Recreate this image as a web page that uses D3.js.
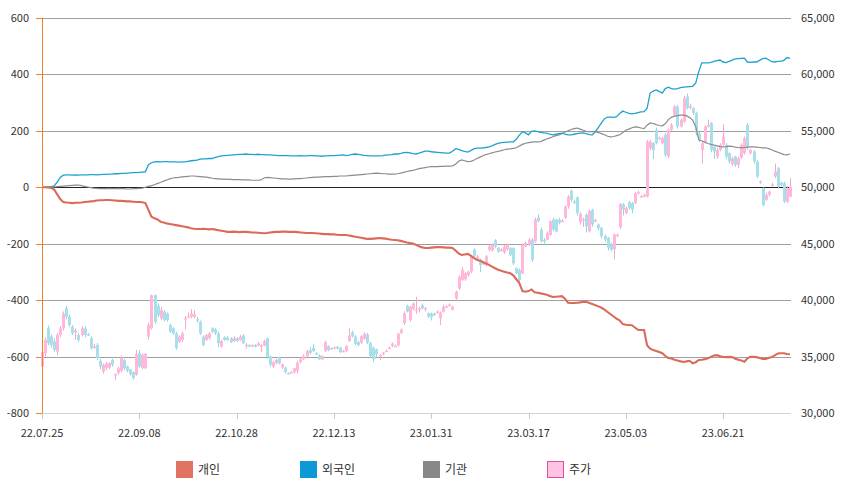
<!DOCTYPE html>
<html><head><meta charset="utf-8">
<script src="https://cdn.jsdelivr.net/npm/d3@7"></script>
<style>body{margin:0;background:#fff} text{font-family:"Noto Sans CJK KR","Noto Sans",sans-serif}</style>
</head><body><svg id="c" width="854" height="492"></svg>
<script>
const tickIndex=[0,32,64,96,128,160,192,224];
const tickLabels=["22.07.25","22.09.08","22.10.28","22.12.13","23.01.31","23.03.17","23.05.03","23.06.21"];
const leftTicks=[-800,-600,-400,-200,0,200,400,600];
const rightTicks=[30000,35000,40000,45000,50000,55000,60000,65000];
const legendNames=["개인","외국인","기관","주가"];

const individual=[0,0,-1,-2,-8,-25,-42,-52,-54,-55,
-56,-55,-55,-54,-52,-51,-50,-49,-47,-46,
-46,-45,-45,-46,-47,-48,-48,-49,-50,-50,
-51,-52,-52,-53,-56,-80,-104,-110,-114,-122,
-125,-128,-130,-132,-134,-136,-138,-140,-142,-145,
-147,-148,-148,-147,-148,-149,-148,-150,-152,-154,
-156,-158,-158,-157,-158,-159,-158,-158,-159,-160,
-160,-161,-162,-163,-162,-160,-159,-158,-158,-157,
-157,-158,-158,-158,-159,-160,-161,-162,-162,-162,
-163,-164,-165,-166,-166,-167,-167,-168,-169,-169,
-169,-171,-173,-175,-177,-179,-181,-183,-183,-182,
-181,-180,-181,-182,-184,-186,-187,-188,-190,-193,
-196,-198,-199,-204,-209,-213,-215,-215,-214,-213,
-212,-212,-213,-214,-214,-215,-224,-234,-240,-238,
-236,-242,-250,-257,-260,-265,-270,-275,-281,-287,
-292,-296,-299,-302,-305,-312,-326,-340,-368,-370,
-368,-362,-372,-374,-376,-378,-381,-385,-389,-388,
-387,-386,-395,-409,-410,-410,-409,-408,-406,-406,
-410,-414,-418,-422,-427,-434,-442,-450,-458,-466,
-472,-485,-487,-488,-489,-497,-505,-506,-506,-560,
-572,-577,-580,-584,-588,-598,-605,-607,-611,-614,
-617,-619,-617,-615,-624,-620,-612,-611,-609,-606,
-601,-596,-595,-599,-601,-602,-601,-602,-608,-611,
-614,-618,-606,-601,-601,-602,-605,-608,-608,-605,
-602,-596,-589,-588,-588,-591,-592];

const foreign=[0,0,1,2,5,18,35,43,44,44,
43,44,43,44,44,44,45,45,44,45,
46,46,47,47,48,48,49,49,50,51,
52,52,53,54,55,80,87,90,91,90,
91,91,90,90,90,89,90,90,92,94,
95,96,100,101,101,102,102,106,109,111,
112,113,114,115,116,117,117,118,117,117,
116,117,116,116,115,115,114,113,112,112,
112,112,111,111,111,112,111,111,112,112,
111,111,110,111,111,112,112,113,114,115,
112,114,117,118,117,115,113,112,111,111,
111,111,112,114,115,116,118,118,120,123,
124,122,119,118,121,125,128,128,126,125,
124,123,122,121,121,128,137,134,130,127,
125,130,136,139,139,140,141,143,147,152,
156,158,159,160,161,161,170,185,197,193,
186,198,200,197,195,193,192,188,186,188,
190,192,188,186,186,188,190,192,193,190,
187,186,197,212,228,243,249,249,248,250,
262,270,266,262,260,262,265,267,268,280,
334,341,345,340,334,350,355,350,348,350,
353,355,356,357,358,370,410,441,441,441,
443,446,449,451,444,442,446,451,455,456,
457,458,444,443,444,444,450,456,458,452,
445,444,446,447,450,460,457];

const institution=[0,0,0,0,1,2,3,4,5,6,
7,8,8,6,3,1,-1,-3,-4,-5,
-5,-5,-4,-5,-5,-4,-5,-5,-6,-6,
-5,-5,-4,-3,0,3,6,9,14,17,
22,26,30,33,34,35,37,38,39,40,
40,39,38,37,36,34,32,31,30,29,
29,28,28,27,27,27,26,26,26,25,
25,25,26,33,35,34,33,32,31,30,
30,29,29,30,31,31,32,33,34,35,
36,36,37,38,38,38,39,39,40,40,
40,41,42,43,44,45,46,47,48,49,
50,49,48,48,47,47,47,48,50,53,
56,58,60,63,66,68,70,72,73,73,
73,74,74,75,75,76,82,92,97,94,
91,92,96,102,107,112,116,119,122,125,
127,130,133,135,136,138,140,146,152,156,
158,160,161,161,162,167,171,175,179,183,
186,190,196,200,205,208,210,206,202,198,
197,197,197,194,190,186,181,179,180,183,
186,194,202,206,211,214,213,210,208,220,
228,226,222,219,218,225,240,248,252,254,
256,256,253,247,238,215,168,164,160,155,
152,150,147,144,143,144,146,145,142,141,
140,141,142,143,143,142,141,140,140,137,
133,128,124,120,116,115,118];

const open=[34100,35300,37500,36770,36330,35440,36910,37500,39265,38530,
37650,37150,36910,36910,37500,36970,36620,35800,36030,34620,
33680,33970,34030,34710,33400,33530,33740,34710,34120,33830,
33620,33380,35300,33970,33970,36770,37500,40440,39500,38380,
38970,38820,37800,37500,37060,36330,36470,38300,38530,38530,
38500,38300,38090,36770,36470,36620,37500,37410,37060,35880,
36710,36680,36620,36380,36620,36470,36850,36000,36030,35950,
36030,35970,35970,35970,36620,35000,34120,34410,34940,34030,
34030,33560,33600,33620,33740,34530,34760,35050,35580,35780,
35300,35110,34760,35490,35930,35720,35780,35850,35780,35450,
35490,36370,37150,36800,36280,36220,36570,36950,36220,35780,
35630,35100,35200,35480,35760,35930,35930,35990,37090,37960,
39480,38250,39190,39100,39250,39560,39270,38840,38840,38800,
38950,38400,38980,39420,39550,39130,40150,41040,41790,41850,
42230,42530,44460,43570,43570,43250,43120,44460,44400,45300,
44610,44460,44230,44520,44610,44610,42830,42680,42380,44760,
44910,45360,45210,47300,46250,45360,45360,45800,47140,47120,
47130,47000,47300,48300,49680,48740,49090,46930,47130,47570,
46110,48010,47050,46700,46400,45670,45530,44940,44500,45760,
46460,48510,47720,48680,48600,48600,49500,49180,49180,49180,
53460,53910,55090,54300,53910,54650,52720,55090,56420,57160,
55390,55830,58050,57100,57010,56570,54790,53310,54050,55390,
55680,53610,52720,53310,53760,53760,53020,52040,52720,51980,
52630,53020,55530,53020,53170,52280,50500,49910,48890,49330,
50150,50950,51690,50410,50360,48740,49180];

const close=[35400,36470,36180,36030,35590,36910,37500,38820,38530,37800,
37060,37300,36470,37500,36910,36950,35740,35900,34850,34120,
34270,34410,34410,34270,33460,33970,34910,33970,33740,33440,
33090,35210,34120,35150,35240,37800,40440,38090,38680,39120,
38240,38240,37210,37060,35740,36770,37060,38400,38560,38820,
38740,38250,37060,36030,36910,37060,37210,37060,36180,36380,
36470,36470,36270,36620,36380,36770,36180,36050,35880,36000,
35880,36180,36000,36380,35000,34270,34500,34710,34410,34330,
33620,33530,33640,33970,34470,34760,35050,35490,35340,35490,
35260,34760,35050,36280,35580,35750,35800,35720,35400,35500,
35930,36860,36800,36130,36010,36800,37030,36220,35050,34760,
35200,35150,35340,35520,35800,36160,35950,37030,37380,38840,
38980,39420,39710,39150,39300,39270,39300,38550,38490,38780,
39000,38900,39420,39450,39600,39420,40740,42080,42680,42380,
42530,43870,43930,43870,43120,43300,43870,44760,44910,44760,
44320,44480,44760,44910,44020,43270,42380,41790,44910,45060,
45360,43570,47140,46990,45210,45210,45950,46990,46250,46090,
46840,47050,48300,49180,48890,48700,47720,47630,47150,46550,
47920,46700,47100,46400,45670,45380,44650,44500,45820,45800,
48510,48010,48160,48160,48010,49470,49560,49200,49330,54050,
54050,53310,53910,54400,54350,52870,55090,55530,57160,55390,
55980,57900,57010,57200,56570,54790,54200,53910,55390,55530,
53310,53170,53310,53760,54500,52720,52280,52570,51980,52570,
53760,54350,53460,53310,52280,50950,50550,48450,49330,49620,
50250,51390,50060,50210,48740,49910,50060];

const high=[35600,36700,37750,36950,36600,37100,37700,39000,39500,38700,
37800,37500,37100,37700,37700,37100,36800,36100,36200,34800,
34400,34500,34500,34800,33500,34100,35100,34800,34200,33900,
33700,35600,35600,35300,35300,38000,40500,40500,39700,39400,
39100,38900,37900,37600,37200,36900,37200,38600,38900,39200,
39100,38500,38200,36900,37000,37200,37600,37500,37200,36500,
36800,36800,36700,36800,36700,36900,37000,36200,36100,36100,
36100,36300,36100,36500,36700,35100,34600,34800,35000,34400,
34100,33600,33700,34000,34600,34900,35200,35600,35800,36100,
35400,35200,35100,36400,36000,35800,35900,35950,35850,35600,
36000,37500,37300,36900,36400,36900,37150,37100,36300,35900,
35700,35200,35400,35600,35900,36250,36050,37100,37500,39000,
39600,39500,39800,40300,39400,39700,39400,38900,38900,38900,
39100,39000,39600,39550,39700,39500,40850,42200,42900,42500,
42600,44000,44600,44000,43700,43400,44000,44900,45000,45400,
44700,44600,44900,45000,44700,44700,42900,42800,45000,45200,
45500,45500,47300,47600,46400,45500,46100,47100,47300,47200,
47300,47200,48400,49300,49800,48900,49200,47800,47300,47700,
48000,48100,47200,46800,46500,45800,45600,45100,45900,45900,
48600,48600,48300,48800,48700,49600,49700,49300,49400,54200,
54200,54000,55300,54500,54500,54800,55200,55700,57300,57300,
56100,58100,58300,57400,57100,56700,54900,54000,55500,56000,
55800,53700,53500,53900,55600,53900,53100,52700,52800,52700,
53900,54500,55700,53400,53300,52400,50600,50000,49500,49700,
50400,52100,51800,50500,50500,50100,50800];

const low=[33500,35000,36000,35800,35400,35100,36700,37300,38300,37600,
36900,36500,36300,36800,36700,36850,35600,35700,34700,33900,
33500,33800,33900,34100,32900,33400,33600,33800,33600,33300,
32950,33300,34000,33900,33900,36500,37400,37900,38500,38200,
38100,38100,37100,36900,35600,36200,36300,37400,38400,38400,
38400,38000,36900,35900,36400,36500,37100,36900,35800,35800,
36400,36400,36200,36300,36300,36400,36100,35700,35800,35900,
35800,35900,35400,35900,34800,34100,34000,34300,34300,33900,
33500,33400,33500,33500,33500,34400,34700,34950,35200,35400,
35200,34700,34700,35400,35500,35600,35700,35650,35300,35400,
35400,36300,36700,36000,35900,36100,36500,36100,34900,34500,
35000,34700,35100,35400,35700,35850,35850,35900,37000,37800,
38900,38100,39100,38800,38900,39200,39000,38400,38200,38600,
38800,37800,38900,39300,39450,39100,39900,40900,41700,41700,
42100,42400,43800,43500,42500,43100,43000,44300,44300,44600,
44200,44300,44100,44400,43900,43100,42300,41600,42300,44700,
44800,43400,45100,46900,45100,44900,45300,45700,46100,46000,
46700,46900,47200,48100,48700,48500,47500,46700,46500,46000,
46000,46500,46900,46200,45500,45200,44400,44300,43600,45600,
46300,47500,47600,48000,47700,48500,49400,49100,49100,49100,
53300,52500,53800,54200,53800,52700,52600,55000,56300,55200,
55300,55700,56900,56900,56400,54600,54000,52100,53900,55300,
53100,52500,52500,53200,53700,52500,52100,51900,51800,51700,
52500,52900,53300,52900,52100,50800,50300,48300,48800,49200,
50000,50800,49900,50100,48600,48600,49100];

const svg=d3.select("#c");
svg.append("rect").attr("width",854).attr("height",492).attr("fill","#fff");
const L=42,R=791,T=18,B=413;
const x=d3.scaleLinear().domain([0,246]).range([L,790]);
const yL=d3.scaleLinear().domain([-800,600]).range([B,T]);
const yR=d3.scaleLinear().domain([30000,65000]).range([B,T]);

// grid
svg.append("g").selectAll("line").data(leftTicks).join("line")
  .attr("x1",L).attr("x2",R)
  .attr("y1",d=>Math.round(yL(d))+0.5).attr("y2",d=>Math.round(yL(d))+0.5)
  .attr("stroke",d=>d===0?"#222":(d===-800?"#d4d4d4":"#a0a0a0")).attr("stroke-width",1);

// left axis labels
const gl=svg.append("g");
gl.selectAll("text").data(leftTicks).join("text")
  .attr("x",29).attr("y",d=>yL(d)+4).attr("text-anchor","end")
  .attr("font-size",11).attr("fill","#333").text(d=>d);
gl.selectAll("line").data(leftTicks).join("line")
  .attr("x1",36).attr("x2",L).attr("y1",d=>Math.round(yL(d))+0.5).attr("y2",d=>Math.round(yL(d))+0.5)
  .attr("stroke","#f0812a");

// right labels
svg.append("g").selectAll("text").data(rightTicks).join("text")
  .attr("x",801).attr("y",d=>yR(d)+4).attr("font-size",11).attr("fill","#333")
  .text(d=>d3.format(",")(d));

// x ticks
const gx=svg.append("g");
gx.selectAll("line").data(tickIndex).join("line")
  .attr("x1",d=>Math.round(x(d))+0.5).attr("x2",d=>Math.round(x(d))+0.5)
  .attr("y1",B).attr("y2",B+6).attr("stroke","#c8c8c8");
gx.selectAll("text").data(tickIndex).join("text")
  .attr("x",d=>x(d)).attr("y",437).attr("text-anchor","middle")
  .attr("font-size",11).attr("fill","#333").text((d,i)=>tickLabels[i]);

// candles
const idx=d3.range(open.length);
const cg=svg.append("g");
const up="#ffb8da", upS="#f7a6d0", dn="#a9dfea", dnS="#94d4e3";
cg.selectAll("line").data(idx).join("line")
  .attr("x1",i=>Math.round(x(i))+0.5).attr("x2",i=>Math.round(x(i))+0.5)
  .attr("y1",i=>yR(high[i])).attr("y2",i=>yR(low[i]))
  .attr("stroke",i=>close[i]>=open[i]?upS:dnS).attr("stroke-width",1);
cg.selectAll("rect").data(idx).join("rect")
  .attr("x",i=>Math.round(x(i))-1)
  .attr("width",3)
  .attr("y",i=>yR(Math.max(open[i],close[i])))
  .attr("height",i=>Math.max(1.5,Math.abs(yR(open[i])-yR(close[i]))))
  .attr("fill",i=>close[i]>=open[i]?up:dn);

// lines
const lineGen=arr=>d3.line().x((d,i)=>x(i)).y(d=>yL(d))(arr);
svg.append("path").attr("d",lineGen(institution)).attr("fill","none").attr("stroke","#8c8c8c").attr("stroke-width",1.2);
svg.append("path").attr("d",lineGen(foreign)).attr("fill","none").attr("stroke","#1ea2cd").attr("stroke-width",1.3);
svg.append("path").attr("d",lineGen(individual)).attr("fill","none").attr("stroke","#dc6a5a").attr("stroke-width",2.1);

// left axis line
svg.append("line").attr("x1",L+0.5).attr("x2",L+0.5).attr("y1",T).attr("y2",B).attr("stroke","#f0812a").attr("stroke-width",1);

// legend
const legX=[176,300,423,547];
const legFill=["#e07262","#0c9ad6","#888888","#ffc4e4"];
const legStroke=["#e07262","#0c9ad6","#888888","#e0509e"];
const lg=svg.append("g");
legendNames.forEach((n,i)=>{
  lg.append("rect").attr("x",legX[i]+0.5).attr("y",461.5).attr("width",16).attr("height",16)
    .attr("fill",legFill[i]).attr("stroke",legStroke[i]);
  lg.append("text").attr("x",legX[i]+22).attr("y",474).attr("font-size",12).attr("fill","#333").text(n);
});
</script></body></html>
